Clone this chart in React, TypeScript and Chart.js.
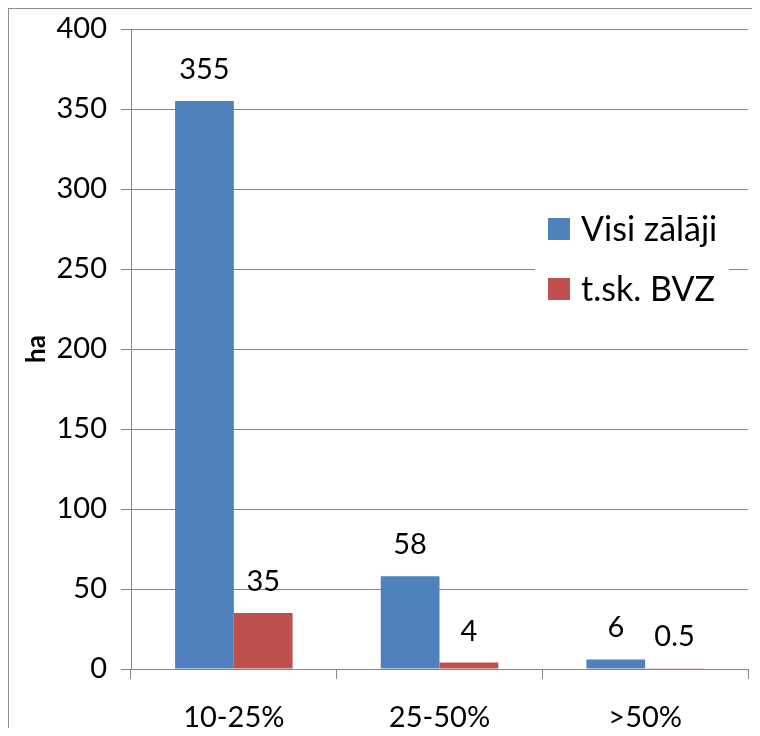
import React, { useEffect, useRef } from "react";
import { Chart, registerables } from "chart.js";

Chart.register(...registerables);

// Data
const categories = ["10-25%", "25-50%", ">50%"];
const allGrassland = [355, 58, 6];
const bvzGrassland = [35, 4, 0.5];
const seriesNames = ["Visi zālāji", "t.sk. BVZ"];
const seriesColors = ["#4F81BD", "#C0504D"];
const yTicks = { min: 0, max: 400, step: 50 };
const yTitle = "ha";

const FONT = "Lato, 'Open Sans', sans-serif";
const GRID = "#868686";

// Value labels above each bar
const valueLabels = {
  id: "valueLabels",
  afterDatasetsDraw(chart: any) {
    const ctx = chart.ctx;
    ctx.save();
    ctx.font = `29px ${FONT}`;
    ctx.fillStyle = "#000";
    ctx.textAlign = "center";
    ctx.textBaseline = "alphabetic";
    chart.data.datasets.forEach((ds: any, di: number) => {
      const meta = chart.getDatasetMeta(di);
      meta.data.forEach((bar: any, i: number) => {
        ctx.fillText(String(ds.data[i]), bar.x, bar.y - 22);
      });
    });
    ctx.restore();
  },
};

// Legend drawn inside the plot area on a white box
const innerLegend = {
  id: "innerLegend",
  afterDatasetsDraw(chart: any) {
    const ctx = chart.ctx;
    ctx.save();
    ctx.fillStyle = "#fff";
    ctx.fillRect(526, 186, 194, 140);
    ctx.font = `34px ${FONT}`;
    ctx.textAlign = "left";
    ctx.textBaseline = "alphabetic";
    chart.data.datasets.forEach((ds: any, i: number) => {
      const rowTop = 209 + i * 60;
      ctx.fillStyle = ds.backgroundColor;
      ctx.fillRect(539, rowTop, 22, 22);
      ctx.fillStyle = "#000";
      ctx.fillText(ds.label, 572, rowTop + 23);
    });
    ctx.restore();
  },
};

export default function App() {
  const ref = useRef<HTMLCanvasElement>(null);

  useEffect(() => {
    if (!ref.current) return;
    const chart = new Chart(ref.current, {
      type: "bar",
      data: {
        labels: categories,
        datasets: [
          {
            label: seriesNames[0],
            data: allGrassland,
            backgroundColor: seriesColors[0],
            categoryPercentage: 2 / 3.5,
            barPercentage: 1,
          },
          {
            label: seriesNames[1],
            data: bvzGrassland,
            backgroundColor: seriesColors[1],
            categoryPercentage: 2 / 3.5,
            barPercentage: 1,
          },
        ],
      },
      options: {
        animation: false,
        responsive: false,
        layout: {
          padding: { top: 20, right: 12, left: 0, bottom: 0 },
        },
        plugins: {
          legend: { display: false },
          tooltip: { enabled: false },
        },
        scales: {
          x: {
            grid: {
              offset: true,
              drawOnChartArea: false,
              drawTicks: true,
              tickLength: 10,
              color: GRID,
            },
            border: { display: true, color: GRID },
            ticks: {
              color: "#000",
              font: { family: FONT, size: 29 },
              padding: 21,
              maxRotation: 0,
            },
            afterFit(scale: any) {
              scale.height = 67;
            },
          },
          y: {
            min: yTicks.min,
            max: yTicks.max,
            grid: { color: GRID, tickLength: 10 },
            border: { display: true, color: GRID },
            ticks: {
              stepSize: yTicks.step,
              color: "#000",
              font: { family: FONT, size: 29 },
              padding: 14,
            },
            title: {
              display: true,
              text: yTitle,
              color: "#000",
              font: { family: FONT, size: 26, weight: "bold" },
              padding: { top: 12, bottom: 0 },
            },
            afterFit(scale: any) {
              scale.width = 122;
              scale.paddingTop = 0;
              scale.paddingBottom = 0;
            },
          },
        },
      },
      plugins: [valueLabels, innerLegend],
    });
    return () => chart.destroy();
  }, []);

  return (
    <div
      style={{
        width: 752,
        height: 720,
        boxSizing: "border-box",
        borderLeft: "1px solid #8c8c8c",
        borderTop: "1px solid #8c8c8c",
        position: "relative",
      }}
    >
      <div
        style={{
          position: "absolute",
          left: -1,
          top: 719,
          width: 1,
          height: 8,
          background: "#8c8c8c",
        }}
      />
      <canvas ref={ref} width={751} height={727} style={{ display: "block" }} />
    </div>
  );
}
